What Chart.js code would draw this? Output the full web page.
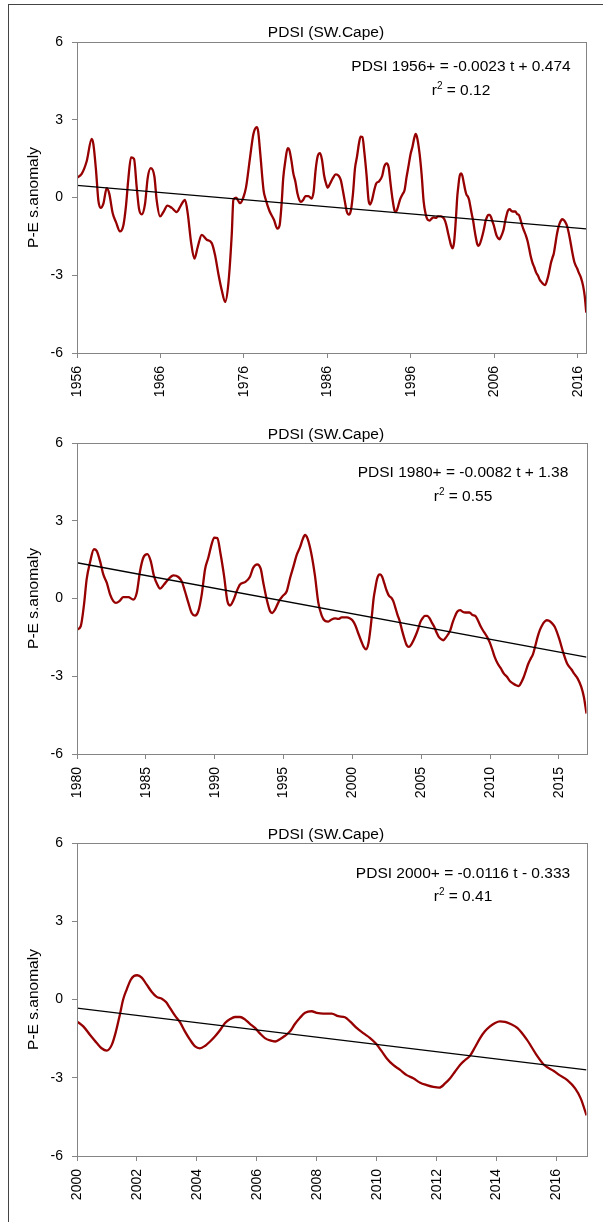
<!DOCTYPE html>
<html>
<head>
<meta charset="utf-8">
<title>PDSI (SW.Cape)</title>
<script src="https://cdn.jsdelivr.net/npm/chart.js@4.4.1/dist/chart.umd.min.js"></script>
<style>
  body { margin: 0; background: #fff; }
  #page { position: relative; width: 603px; height: 1222px; overflow: hidden; background: #fff; }
  #frame { position: absolute; left: 8px; top: 4px; width: 700px; height: 1300px;
           border-left: 1px solid #444; border-top: 1px solid #444; }
  .panel { position: absolute; left: 0; width: 603px; }
</style>
</head>
<body>
<div id="page">
  <div id="frame"></div>
  <div class="panel" style="top:0;height:410px"><canvas id="pdsi1956"></canvas></div>
  <div class="panel" style="top:410px;height:400px"><canvas id="pdsi1980"></canvas></div>
  <div class="panel" style="top:810px;height:412px"><canvas id="pdsi2000"></canvas></div>
</div>

<script>
// PDSI (SW.Cape), smoothed monthly series
const years = [
  1956.00, 1956.56, 1957.16, 1957.76, 1957.96, 1958.28, 1958.56, 1958.84, 1959.16, 1959.56,
  1959.87, 1960.27, 1960.67, 1961.15, 1961.55, 1961.87, 1962.15, 1962.47, 1962.83, 1963.15,
  1963.43, 1963.75, 1964.15, 1964.47, 1964.83, 1965.27, 1965.55, 1965.95, 1966.35, 1966.83,
  1967.35, 1967.95, 1968.43, 1968.94, 1969.27, 1969.66, 1970.06, 1970.46, 1970.94, 1971.54,
  1972.14, 1972.54, 1972.93, 1973.34, 1973.74, 1974.13, 1974.54, 1974.73, 1975.05, 1975.53,
  1975.93, 1976.25, 1976.73, 1977.13, 1977.53, 1977.70, 1977.95, 1978.35, 1978.58, 1979.03,
  1979.59,
  1980.00, 1980.27, 1980.51, 1980.70, 1980.94, 1981.23, 1981.43, 1981.67, 1981.91, 1982.16,
  1982.40, 1982.64, 1982.83, 1983.12, 1983.36, 1983.73, 1984.09, 1984.34, 1984.58, 1984.82,
  1985.11, 1985.35, 1985.59, 1985.83, 1986.03, 1986.32, 1986.63, 1987.00, 1987.36, 1987.60,
  1987.84, 1988.09, 1988.33, 1988.57, 1988.81, 1989.06, 1989.30, 1989.54, 1989.78, 1989.97,
  1990.19, 1990.43, 1990.68, 1990.92, 1991.11, 1991.35, 1991.60, 1991.84, 1992.20, 1992.56,
  1992.80, 1993.09, 1993.34, 1993.53, 1993.78, 1994.02, 1994.18, 1994.38, 1994.69, 1994.98,
  1995.23, 1995.47, 1995.71, 1995.95, 1996.19, 1996.40, 1996.56, 1996.75, 1997.03, 1997.28,
  1997.52, 1997.77, 1998.00, 1998.25, 1998.49, 1998.74, 1998.98, 1999.22, 1999.58, 1999.83,
  2000.00, 2000.21, 2000.43, 2000.66, 2000.82, 2000.99, 2001.16, 2001.30, 2001.43, 2001.54,
  2001.66, 2001.79, 2001.90, 2002.01, 2002.16, 2002.32, 2002.49, 2002.66, 2002.83, 2002.97,
  2003.10, 2003.27, 2003.44, 2003.60, 2003.77, 2003.94, 2004.10, 2004.27, 2004.44, 2004.60,
  2004.77, 2004.94, 2005.11, 2005.27, 2005.44, 2005.61, 2005.77, 2005.94, 2006.11, 2006.27,
  2006.44, 2006.61, 2006.77, 2006.94, 2007.11, 2007.27, 2007.44, 2007.61, 2007.83, 2008.00,
  2008.22, 2008.50, 2008.72, 2008.94, 2009.11, 2009.33, 2009.55, 2009.78, 2009.98, 2010.17,
  2010.33, 2010.55, 2010.78, 2011.00, 2011.22, 2011.45, 2011.67, 2011.89, 2012.09, 2012.28,
  2012.45, 2012.61, 2012.78, 2012.95, 2013.11, 2013.28, 2013.45, 2013.61, 2013.78, 2013.95,
  2014.11, 2014.28, 2014.45, 2014.69, 2015.01, 2015.33, 2015.59, 2015.91, 2016.10, 2016.36,
  2016.62, 2016.81, 2017.00
];
const pdsi = [
  0.76, 0.91, 1.40, 2.26, 2.06, 1.04, -0.12, -0.40, -0.24, 0.36,
  0.14, -0.60, -0.95, -1.31, -1.08, -0.31, 0.72, 1.55, 1.49, 0.40,
  -0.44, -0.65, -0.24, 0.76, 1.13, 0.81, -0.12, -0.73, -0.56, -0.31,
  -0.40, -0.56, -0.31, -0.09, -0.63, -1.72, -2.36, -1.91, -1.44, -1.63,
  -1.76, -2.23, -2.94, -3.58, -4.03, -3.32, -1.40, -0.09, -0.01, -0.22,
  0.01, 0.40, 1.55, 2.45, 2.71, 2.55, 1.70, 0.27, -0.05, -0.50,
  -0.86,
  -1.20, -1.07, -0.23, 0.74, 1.38, 1.90, 1.84, 1.45, 0.93, 0.61,
  0.16, -0.10, -0.17, -0.08, 0.05, 0.05, -0.04, 0.22, 1.06, 1.58,
  1.71, 1.45, 0.87, 0.54, 0.38, 0.54, 0.74, 0.89, 0.83, 0.67,
  0.28, -0.17, -0.56, -0.66, -0.49, 0.16, 1.13, 1.58, 2.10, 2.35,
  2.33, 1.71, 0.87, -0.10, -0.27, -0.08, 0.28, 0.54, 0.63, 0.84,
  1.19, 1.32, 1.15, 0.61, -0.04, -0.49, -0.56, -0.43, -0.08, 0.12,
  0.28, 0.78, 1.22, 1.67, 1.97, 2.30, 2.45, 2.30, 1.70, 0.88,
  -0.15, -0.66, -0.86, -0.89, -0.81, -0.77, -0.79, -0.73, -0.73, -0.77,
  -0.84, -1.03, -1.35, -1.67, -1.87, -1.96, -1.74, -1.22, -0.58, 0.00,
  0.39, 0.75, 0.90, 0.93, 0.84, 0.58, 0.30, 0.10, 0.03, -0.10,
  -0.32, -0.62, -0.88, -1.22, -1.54, -1.80, -1.87, -1.78, -1.61, -1.42,
  -1.18, -0.90, -0.75, -0.67, -0.67, -0.77, -0.93, -1.09, -1.31, -1.48,
  -1.57, -1.61, -1.52, -1.39, -1.22, -0.94, -0.70, -0.51, -0.45, -0.51,
  -0.54, -0.54, -0.64, -0.68, -0.84, -1.09, -1.29, -1.48, -1.70, -1.99,
  -2.25, -2.51, -2.70, -2.90, -3.02, -3.19, -3.28, -3.35, -3.38, -3.22,
  -3.02, -2.77, -2.51, -2.32, -2.16, -1.83, -1.48, -1.22, -1.03, -0.90,
  -0.84, -0.86, -0.93, -1.09, -1.54, -2.12, -2.51, -2.74, -2.90, -3.09,
  -3.41, -3.80, -4.44
];

// linear trend lines (end points)
const trend1956Years = [1956, 2017];
const trend1956Values = [0.47, -1.21];
const trend1980Years = [1980, 2017];
const trend1980Values = [1.38, -2.26];
const trend2000Years = [2000, 2017];
const trend2000Values = [-0.33, -2.70];

// axis ticks
const ticks1956 = [1956, 1966, 1976, 1986, 1996, 2006, 2016];
const ticks1980 = [1980, 1985, 1990, 1995, 2000, 2005, 2010, 2015];
const ticks2000 = [2000, 2002, 2004, 2006, 2008, 2010, 2012, 2014, 2016];
const yTicks = [-6, -3, 0, 3, 6];

const chartTitle = 'PDSI (SW.Cape)';
const yTitle = 'P-E s.anomaly';
const equations = [
  ['PDSI 1956+ = -0.0023 t + 0.474', '0.12'],
  ['PDSI 1980+ = -0.0082 t + 1.38', '0.55'],
  ['PDSI 2000+ = -0.0116 t - 0.333', '0.41']
];

const FONT = '"Liberation Sans", Arial, sans-serif';

// frame of the plot area + title + regression text
const panelText = {
  id: 'panelText',
  afterDraw: function (chart, args, opts) {
    const ctx = chart.ctx;
    const a = chart.chartArea;
    ctx.save();
    ctx.strokeStyle = '#858585';
    ctx.lineWidth = 1;
    ctx.strokeRect(Math.round(a.left) + 0.5, Math.round(a.top) + 0.5,
                   Math.round(a.right - a.left), Math.round(a.bottom - a.top));

    ctx.fillStyle = '#000';
    ctx.textBaseline = 'middle';
    ctx.textAlign = 'center';
    ctx.font = '15.5px ' + FONT;
    ctx.fillText(chartTitle, opts.titleX, opts.titleY);

    ctx.font = '15.5px ' + FONT;
    ctx.fillText(opts.eq[0], opts.eqX, opts.eqY1);

    // r² = ...
    const rest = ' = ' + opts.eq[1];
    ctx.textAlign = 'left';
    ctx.font = '15.5px ' + FONT;
    const wr = ctx.measureText('r').width;
    const wrest = ctx.measureText(rest).width;
    ctx.font = '10px ' + FONT;
    const w2 = ctx.measureText('2').width;
    let x = opts.eqX - (wr + w2 + wrest) / 2;
    ctx.font = '15.5px ' + FONT;
    ctx.fillText('r', x, opts.eqY2);
    ctx.font = '10px ' + FONT;
    ctx.fillText('2', x + wr, opts.eqY2 - 5);
    ctx.font = '15.5px ' + FONT;
    ctx.fillText(rest, x + wr + w2, opts.eqY2);
    ctx.restore();
  }
};

function makePanel(id, xMin, xMax, xTicks, trendX, trendY, layout, text) {
  const series = [];
  for (let i = 0; i < years.length; i++) {
    if (years[i] >= xMin && years[i] <= xMax) series.push({ x: years[i], y: pdsi[i] });
  }
  const trend = trendX.map(function (v, i) { return { x: v, y: trendY[i] }; });

  return new Chart(document.getElementById(id), {
    type: 'line',
    data: {
      datasets: [
        {
          label: 'trend',
          data: trend,
          borderColor: '#000',
          borderWidth: 1.3,
          pointRadius: 0,
          tension: 0
        },
        {
          label: 'PDSI',
          data: series,
          borderColor: '#960000',
          borderWidth: 2.3,
          pointRadius: 0,
          cubicInterpolationMode: 'monotone'
        }
      ]
    },
    options: {
      responsive: true,
      maintainAspectRatio: false,
      animation: false,
      events: [],
      layout: { padding: { top: layout.top, left: 24, right: 16.5, bottom: 0 } },
      plugins: {
        legend: { display: false },
        tooltip: { enabled: false },
        title: { display: false },
        panelText: text
      },
      scales: {
        x: {
          type: 'linear',
          min: xMin,
          max: xMax,
          afterBuildTicks: function (axis) {
            axis.ticks = xTicks.map(function (v) { return { value: v }; });
          },
          afterFit: function (axis) { axis.height = layout.xHeight; },
          border: { display: false },
          grid: { drawOnChartArea: false, drawTicks: true, tickLength: 5, color: '#858585' },
          ticks: {
            minRotation: 90,
            maxRotation: 90,
            padding: 8,
            color: '#000',
            font: { family: FONT, size: 14 },
            callback: function (value) { return String(value); }
          }
        },
        y: {
          min: -6,
          max: 6,
          afterBuildTicks: function (axis) {
            axis.ticks = yTicks.map(function (v) { return { value: v }; });
          },
          afterFit: function (axis) { axis.width = 53; },
          border: { display: false },
          grid: { drawOnChartArea: false, drawTicks: true, tickLength: 5, color: '#858585' },
          ticks: {
            padding: 9,
            color: '#000',
            font: { family: FONT, size: 14 },
            callback: function (value) { return String(value); }
          },
          title: {
            display: true,
            text: yTitle,
            color: '#000',
            padding: { top: 0, bottom: 0 },
            font: { family: FONT, size: 15.5 }
          }
        }
      }
    },
    plugins: [panelText]
  });
}

makePanel('pdsi1956', 1956, 2017, ticks1956, trend1956Years, trend1956Values,
  { top: 42, xHeight: 57 },
  { titleX: 326, titleY: 32.5, eq: equations[0], eqX: 461, eqY1: 66.5, eqY2: 91 });

makePanel('pdsi1980', 1980, 2017, ticks1980, trend1980Years, trend1980Values,
  { top: 33, xHeight: 56 },
  { titleX: 326, titleY: 25, eq: equations[1], eqX: 463, eqY1: 62.8, eqY2: 87 });

makePanel('pdsi2000', 2000, 2017, ticks2000, trend2000Years, trend2000Values,
  { top: 33, xHeight: 66 },
  { titleX: 326, titleY: 25, eq: equations[2], eqX: 463, eqY1: 64, eqY2: 87 });
</script>
</body>
</html>
